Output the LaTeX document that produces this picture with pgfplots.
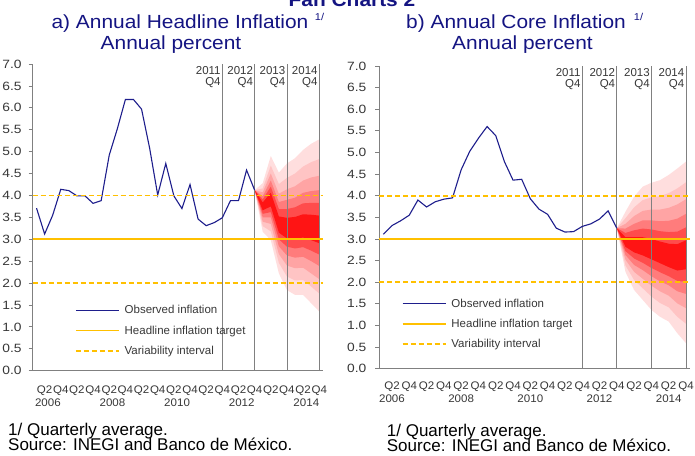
\documentclass[border=0pt]{standalone}
\usepackage{fontspec}
\setmainfont{Liberation Sans}
\usepackage{pgfplots}
\pgfplotsset{compat=1.18}
\usepackage{pgfplotstable}
\usepgfplotslibrary{fillbetween}

\definecolor{titleblue}{RGB}{20,20,130}
\definecolor{obsblue}{RGB}{30,30,140}
\definecolor{tgtgold}{RGB}{255,192,0}
\definecolor{axisgray}{RGB}{128,128,128}
\definecolor{ticktext}{RGB}{55,55,55}
\definecolor{fan1}{RGB}{255,222,222}
\definecolor{fan2}{RGB}{255,196,196}
\definecolor{fan3}{RGB}{255,164,164}
\definecolor{fan4}{RGB}{255,124,124}
\definecolor{fan5}{RGB}{255,76,76}
\definecolor{fan6}{RGB}{255,20,20}

% observed headline inflation (quarter index 1 = 2006Q1)
\pgfplotstableread{
n v
1 3.71
2 3.12
3 3.55
4 4.14
5 4.11
6 3.99
7 3.99
8 3.82
9 3.88
10 4.92
11 5.52
12 6.19
13 6.19
14 5.97
15 5.08
16 4.01
17 4.73
18 3.99
19 3.70
20 4.25
21 3.46
22 3.31
23 3.38
24 3.49
25 3.88
26 3.88
27 4.58
28 4.12
}\hobs

% observed core inflation
\pgfplotstableread{
n v
1 3.11
2 3.31
3 3.42
4 3.55
5 3.90
6 3.74
7 3.86
8 3.92
9 3.95
10 4.60
11 5.03
12 5.33
13 5.60
14 5.39
15 4.79
16 4.36
17 4.38
18 3.93
19 3.69
20 3.57
21 3.25
22 3.16
23 3.17
24 3.29
25 3.35
26 3.46
27 3.65
28 3.25
}\cobs

% headline fan: upper/lower bounds of nested bands (1 = widest)
\pgfplotstableread{
n u1 l1 u2 l2 u3 l3 u4 l4 u5 l5 u6 l6
28 4.12 4.12 4.12 4.12 4.12 4.12 4.12 4.12 4.12 4.12 4.12 4.12
29 4.28 3.17 4.16 3.30 4.07 3.40 3.98 3.50 3.91 3.58 3.84 3.66
30 4.90 2.98 4.68 3.18 4.50 3.35 4.34 3.50 4.20 3.62 4.06 3.75
31 4.52 2.22 4.26 2.46 4.04 2.66 3.85 2.84 3.69 3.00 3.52 3.15
32 4.73 1.84 4.40 2.15 4.14 2.40 3.90 2.63 3.69 2.83 3.49 3.02
33 4.85 1.73 4.50 2.06 4.21 2.34 3.95 2.58 3.73 2.79 3.51 3.01
34 5.04 1.73 4.66 2.07 4.34 2.35 4.06 2.60 3.82 2.82 3.57 3.04
35 5.18 1.54 4.76 1.92 4.41 2.22 4.10 2.50 3.83 2.74 3.56 2.98
36 5.28 1.35 4.83 1.76 4.45 2.09 4.12 2.39 3.83 2.65 3.54 2.91
}\fanA

% core fan
\pgfplotstableread{
n u1 l1 u2 l2 u3 l3 u4 l4 u5 l5 u6 l6
28 3.25 3.25 3.25 3.25 3.25 3.25 3.25 3.25 3.25 3.25 3.25 3.25
29 3.63 2.24 3.48 2.39 3.35 2.52 3.24 2.63 3.14 2.72 3.04 2.82
30 3.98 1.82 3.73 2.05 3.53 2.24 3.35 2.40 3.20 2.55 3.04 2.69
31 4.21 1.59 3.90 1.86 3.65 2.08 3.43 2.28 3.24 2.45 3.04 2.62
32 4.30 1.36 3.96 1.67 3.68 1.92 3.43 2.14 3.22 2.33 3.00 2.53
33 4.36 1.20 3.99 1.52 3.68 1.79 3.41 2.02 3.18 2.23 2.94 2.44
34 4.48 1.09 4.06 1.42 3.72 1.69 3.42 1.93 3.16 2.14 2.89 2.35
35 4.63 0.82 4.17 1.20 3.80 1.51 3.47 1.79 3.17 2.03 2.88 2.27
36 4.79 0.59 4.31 1.04 3.92 1.40 3.58 1.73 3.27 2.01 2.97 2.30
}\fanB

\pgfplotsset{
 fanaxis/.style={
  scale only axis,
  xmin=0.5, xmax=36.5, ymin=0, ymax=7,
  axis x line=bottom, axis y line=left,
  axis line style={-, draw=axisgray, line width=0.8pt},
  ytick={0,0.5,1,1.5,2,2.5,3,3.5,4,4.5,5,5.5,6,6.5,7},
  yticklabel style={font=\fontsize{12}{12}\selectfont, xscale=1.15,
    /pgf/number format/fixed, /pgf/number format/fixed zerofill,
    /pgf/number format/precision=1, /pgf/number format/assume math mode=true},
  tick align=outside, major tick length=4pt,
  ytick style={draw=axisgray, line width=0.8pt},
  xtick={2,4,...,36},
  xticklabels={Q2,Q4,Q2,Q4,Q2,Q4,Q2,Q4,Q2,Q4,Q2,Q4,Q2,Q4,Q2,Q4,Q2,Q4},
  xtick style={draw=none},
  xticklabel style={font=\fontsize{11}{11}\selectfont, xscale=1.05},
  tick label style={text=ticktext},
  extra x tick labels={2006,2008,2010,2012,2014},
  legend cell align=left,
  legend image code/.code={\draw[##1] (0pt,0pt) -- (43pt,0pt);},
  legend style={draw=none, fill=none, font=\fontsize{11.5}{13}\selectfont,
    text=ticktext, row sep=8.5pt, column sep=4pt, inner sep=0pt, nodes={inner sep=1pt}},
 },
}
\tikzset{
 annot/.style={anchor=north east, align=right, inner sep=0pt,
   font=\fontsize{11.5}{11}\selectfont, text=ticktext, xshift=-1.5pt, yshift=-2.7pt},
}

\begin{document}
\begin{tikzpicture}

% ---------------- left: headline ----------------
\begin{axis}[fanaxis,
  at={(32.5pt,84.3pt)}, anchor=south west,
  width=290.8pt, height=306.7pt,
  yticklabel style={xshift=-2.5pt},
  xticklabel style={yshift=-8pt},
  extra x ticks={2.4,10.4,18.4,26.4,34.4},
  extra x tick style={major tick length=0pt, tick label style={yshift=-17pt}},
  legend style={at={(0.145,0.217)}, anchor=north west},
]
\pgfplotsinvokeforeach{1,...,6}{
  \addplot[draw=none, forget plot, name path=au#1] table[x=n, y=u#1] {\fanA};
  \addplot[draw=none, forget plot, name path=al#1] table[x=n, y=l#1] {\fanA};
  \addplot[fill=fan#1, draw=none, forget plot] fill between[of=au#1 and al#1];
}
\addplot[axisgray, line width=0.8pt, forget plot] coordinates {(24,0) (24,7)};
\addplot[axisgray, line width=0.8pt, forget plot] coordinates {(28,0) (28,7)};
\addplot[axisgray, line width=0.8pt, forget plot] coordinates {(32,0) (32,7)};
\addplot[axisgray, line width=0.8pt, forget plot] coordinates {(36,0) (36,7)};
\addplot[draw=obsblue, line width=1.1pt] table[x=n, y=v] {\hobs};
\addlegendentry{Observed inflation}
\addplot[draw=tgtgold, line width=1.8pt] coordinates {(0.5,3) (36.5,3)};
\addlegendentry{Headline inflation target}
\addplot[draw=tgtgold, line width=1.8pt, dash pattern=on 5pt off 3pt] coordinates {(0.5,4) (36.5,4)};
\addlegendentry{Variability interval}
\addplot[draw=tgtgold, line width=1.8pt, dash pattern=on 5pt off 3pt, forget plot] coordinates {(0.5,2) (36.5,2)};
\node[annot] at (axis cs:24,7) {2011\\Q4};
\node[annot] at (axis cs:28,7) {2012\\Q4};
\node[annot] at (axis cs:32,7) {2013\\Q4};
\node[annot] at (axis cs:36,7) {2014\\Q4};
\end{axis}

% ---------------- right: core ----------------
\begin{axis}[fanaxis,
  at={(379pt,86.3pt)}, anchor=south west,
  width=311.3pt, height=302.7pt,
  yticklabel style={xshift=-4pt},
  xticklabel style={yshift=-5.5pt},
  extra x ticks={2,10,18,26,34},
  extra x tick style={major tick length=0pt, tick label style={yshift=-17pt}},
  legend style={at={(0.072,0.235)}, anchor=north west},
]
\pgfplotsinvokeforeach{1,...,6}{
  \addplot[draw=none, forget plot, name path=bu#1] table[x=n, y=u#1] {\fanB};
  \addplot[draw=none, forget plot, name path=bl#1] table[x=n, y=l#1] {\fanB};
  \addplot[fill=fan#1, draw=none, forget plot] fill between[of=bu#1 and bl#1];
}
\addplot[axisgray, line width=0.8pt, forget plot] coordinates {(24,0) (24,7)};
\addplot[axisgray, line width=0.8pt, forget plot] coordinates {(28,0) (28,7)};
\addplot[axisgray, line width=0.8pt, forget plot] coordinates {(32,0) (32,7)};
\addplot[axisgray, line width=0.8pt, forget plot] coordinates {(36,0) (36,7)};
\addplot[draw=obsblue, line width=1.1pt] table[x=n, y=v] {\cobs};
\addlegendentry{Observed inflation}
\addplot[draw=tgtgold, line width=1.8pt] coordinates {(0.5,3) (36.5,3)};
\addlegendentry{Headline inflation target}
\addplot[draw=tgtgold, line width=1.8pt, dash pattern=on 5pt off 3pt] coordinates {(0.5,4) (36.5,4)};
\addlegendentry{Variability interval}
\addplot[draw=tgtgold, line width=1.8pt, dash pattern=on 5pt off 3pt, forget plot] coordinates {(0.5,2) (36.5,2)};
\node[annot] at (axis cs:24,7) {2011\\Q4};
\node[annot] at (axis cs:28,7) {2012\\Q4};
\node[annot] at (axis cs:32,7) {2013\\Q4};
\node[annot] at (axis cs:36,7) {2014\\Q4};
\end{axis}

% ---------------- titles and notes ----------------
\node[anchor=base, font=\bfseries\fontsize{19}{19}\selectfont, text=titleblue, xscale=1.1] at (352pt,448.5pt) {Fan Charts 2};
\node[anchor=base, font=\fontsize{19}{19}\selectfont, text=titleblue, xscale=1.1] at (180pt,426.7pt) {a) Annual Headline Inflation};
\node[anchor=base west, font=\fontsize{10}{10}\selectfont, text=titleblue, xscale=1.1] at (311pt,434pt) {1/};
\node[anchor=base, font=\fontsize{19}{19}\selectfont, text=titleblue, xscale=1.1] at (171pt,405pt) {Annual percent};
\node[anchor=base, font=\fontsize{19}{19}\selectfont, text=titleblue, xscale=1.1] at (516pt,426.7pt) {b) Annual Core Inflation};
\node[anchor=base west, font=\fontsize{10}{10}\selectfont, text=titleblue, xscale=1.1] at (630pt,434pt) {1/};
\node[anchor=base, font=\fontsize{19}{19}\selectfont, text=titleblue, xscale=1.1] at (522.5pt,405pt) {Annual percent};

\node[anchor=base west, inner sep=0pt, font=\fontsize{17}{17}\selectfont] at (8pt,20pt) {1/ Quarterly average.};
\node[anchor=base west, inner sep=0pt, font=\fontsize{17}{17}\selectfont] at (8pt,4.3pt) {Source: INEGI and Banco de México.};
\node[anchor=base west, inner sep=0pt, font=\fontsize{17}{17}\selectfont] at (386.7pt,19pt) {1/ Quarterly average.};
\node[anchor=base west, inner sep=0pt, font=\fontsize{17}{17}\selectfont] at (386.7pt,3.3pt) {Source: INEGI and Banco de México.};

\pgfresetboundingbox
\useasboundingbox (0pt,0pt) rectangle (695pt,455pt);
\end{tikzpicture}
\end{document}
